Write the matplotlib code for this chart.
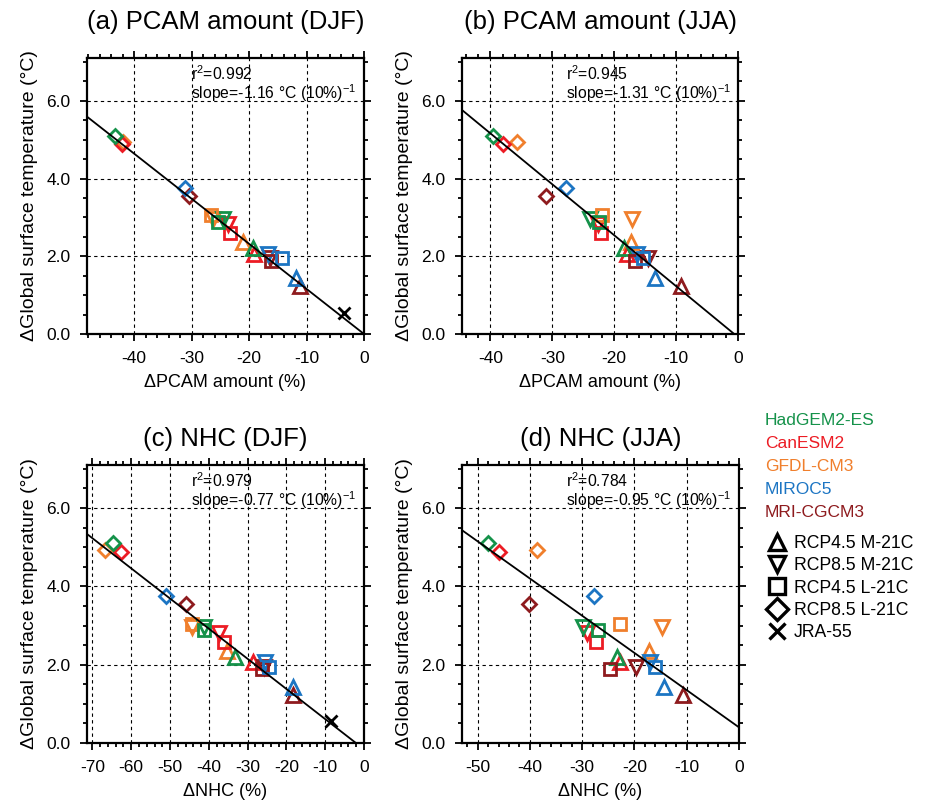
import numpy as np
import matplotlib
matplotlib.use("Agg")
import matplotlib.pyplot as plt
from matplotlib.lines import Line2D
from matplotlib.ticker import MultipleLocator, FormatStrFormatter

plt.rcParams["font.family"] = ["Liberation Sans", "DejaVu Sans"]
plt.rcParams["mathtext.fontset"] = "custom"
plt.rcParams["mathtext.rm"] = "Liberation Sans"
plt.rcParams["mathtext.it"] = "Liberation Sans:italic"

# ---------------------------------------------------------------- data
models = ["HadGEM2-ES", "CanESM2", "GFDL-CM3", "MIROC5", "MRI-CGCM3"]
model_colors = ["#15924a", "#ec1c24", "#f07f2c", "#1c75c3", "#8e1b1e"]
scenarios = ["RCP4.5 M-21C", "RCP8.5 M-21C", "RCP4.5 L-21C", "RCP8.5 L-21C"]
scenario_markers = ["^", "v", "s", "D"]

# global-mean surface temperature change (°C); rows = models, cols = scenarios
dT = np.array([
    [2.20, 2.96, 2.88, 5.10],
    [2.07, 2.82, 2.59, 4.88],
    [2.36, 2.97, 3.05, 4.94],
    [1.44, 2.06, 1.95, 3.75],
    [1.23, 1.95, 1.88, 3.54],
])

# change in PCAM amount (%), DJF
pcam_djf = np.array([
    [-19.4, -24.6, -25.4, -43.3],
    [-19.1, -23.7, -23.4, -42.1],
    [-21.1, -26.2, -26.6, -41.9],
    [-11.9, -16.7, -14.3, -31.1],
    [-11.2, -16.4, -16.2, -30.4],
])
# change in PCAM amount (%), JJA
pcam_jja = np.array([
    [-18.5, -23.9, -22.5, -39.6],
    [-18.0, -22.6, -22.1, -38.0],
    [-17.3, -17.1, -22.0, -35.7],
    [-13.4, -16.3, -15.3, -27.8],
    [-9.2, -14.5, -16.6, -31.1],
])
# change in NHC (%), DJF
nhc_djf = np.array([
    [-33.2, -41.3, -41.3, -64.6],
    [-28.5, -37.4, -36.2, -62.7],
    [-35.3, -44.3, -44.3, -66.7],
    [-18.4, -25.4, -24.6, -51.1],
    [-18.4, -25.8, -26.3, -46.0],
])
# change in NHC (%), JJA
nhc_jja = np.array([
    [-23.3, -29.8, -26.9, -48.0],
    [-22.7, -29.1, -27.3, -45.9],
    [-17.3, -14.8, -22.8, -38.7],
    [-14.4, -17.0, -16.0, -27.7],
    [-10.7, -19.7, -24.7, -40.1],
])

# JRA-55 reanalysis (DJF panels only)
jra_label = "JRA-55"
jra_pcam_djf = -3.5
jra_nhc_djf = -8.6
jra_dT = 0.55

# regression statistics per panel
r_squared = [0.992, 0.945, 0.979, 0.784]
slopes_per10 = [-1.16, -1.31, -0.77, -0.95]      # °C per 10 %
intercepts = [0.0, -0.08, -0.16, 0.40]           # °C

titles = ["(a) PCAM amount (DJF)", "(b) PCAM amount (JJA)",
          "(c) NHC (DJF)", "(d) NHC (JJA)"]
xlabels = ["\u0394PCAM amount (%)", "\u0394PCAM amount (%)",
           "\u0394NHC (%)", "\u0394NHC (%)"]
ylabel = "\u0394Global surface temperature (\u00b0C)"
xdata = [pcam_djf, pcam_jja, nhc_djf, nhc_jja]
jra_x = [jra_pcam_djf, None, jra_nhc_djf, None]
xlims = [(-48.2, 0), (-44.6, 0), (-71.4, 0), (-53.0, 0)]
ylim = (0, 7.1)

# ---------------------------------------------------------------- figure
W, H = 927, 805
fig = plt.figure(figsize=(W / 100, H / 100), dpi=100)

boxes = [  # left, top, right, bottom in pixels
    (87, 58, 364, 334),
    (462, 58, 738, 334),
    (87, 465, 364, 743),
    (462, 465, 739, 743),
]
title_pads = [21, 21, 14, 14]

marker_sizes = {"^": 9.5, "v": 9.5, "s": 8.4, "D": 7.6}
legend_marker_sizes = {"^": 12, "v": 12, "s": 11.5, "D": 11}

for k, (l, t, r, b) in enumerate(boxes):
    ax = fig.add_axes([l / W, 1 - b / H, (r - l) / W, (b - t) / H])
    ax.set_xlim(*xlims[k])
    ax.set_ylim(*ylim)

    ax.xaxis.set_major_locator(MultipleLocator(10))
    ax.xaxis.set_minor_locator(MultipleLocator(2))
    ax.yaxis.set_major_locator(MultipleLocator(2))
    ax.yaxis.set_minor_locator(MultipleLocator(0.5))
    ax.xaxis.set_major_formatter(FormatStrFormatter("%d"))
    ax.yaxis.set_major_formatter(FormatStrFormatter("%.1f"))
    ax.tick_params(which="both", direction="out", top=True, right=True,
                   width=1.3, labelsize=12.5, pad=7)
    ax.tick_params(which="major", length=5)
    ax.tick_params(which="minor", length=3)
    for sp in ax.spines.values():
        sp.set_linewidth(1.6)

    ax.grid(True, which="major", color="black", linestyle=(0, (3, 3)),
            linewidth=0.8, zorder=0)
    ax.set_axisbelow(True)

    # scatter: scenario by scenario, models in reverse order
    xs = xdata[k]
    for j, mk in enumerate(scenario_markers):
        for i in reversed(range(len(models))):
            ax.plot(xs[i, j], dT[i, j], linestyle="none", marker=mk,
                    markersize=marker_sizes[mk], markerfacecolor="none",
                    markeredgecolor=model_colors[i], markeredgewidth=2.0,
                    zorder=3)

    if jra_x[k] is not None:
        ax.plot(jra_x[k], jra_dT, linestyle="none", marker="x",
                markersize=9, markeredgewidth=2.0, color="black", zorder=4)

    # regression line
    xl = np.array(xlims[k], dtype=float)
    ax.plot(xl, slopes_per10[k] / 10.0 * xl + intercepts[k],
            color="black", linewidth=1.3, zorder=5)

    ax.text(0.375, 0.942, r"r$^{\mathregular{2}}$=%.3f" % r_squared[k],
            transform=ax.transAxes, fontsize=11.3, va="center", ha="left")
    ax.text(0.375, 0.872,
            r"slope=%.2f $\mathregular{\degree}$C (10%%)$^{\mathregular{-1}}$"
            % slopes_per10[k],
            transform=ax.transAxes, fontsize=11.3, va="center", ha="left")

    ax.set_title(titles[k], fontsize=18.5, pad=title_pads[k])
    ax.set_xlabel(xlabels[k], fontsize=13, labelpad=6)
    ax.set_ylabel(ylabel, fontsize=14, labelpad=6)

# ---------------------------------------------------------------- legends
model_handles = [Line2D([], [], linestyle="none") for _ in models]
fig.legend(model_handles, models, loc="upper left",
           bbox_to_anchor=(765 / W, 1 - 413 / H), frameon=False,
           handlelength=0, handletextpad=0, labelcolor=model_colors,
           fontsize=12.5, labelspacing=0.45, borderpad=0, borderaxespad=0)

sym_handles = [Line2D([], [], linestyle="none", marker=mk, color="black",
                      markerfacecolor="none",
                      markersize=legend_marker_sizes[mk],
                      markeredgewidth=2.4)
               for mk in scenario_markers]
sym_handles.append(Line2D([], [], linestyle="none", marker="x",
                          color="black", markersize=11, markeredgewidth=2.4))
fig.legend(sym_handles, scenarios + [jra_label], loc="upper left",
           bbox_to_anchor=(768 / W, 1 - 535 / H), frameon=False,
           handlelength=1.0, handletextpad=0.45, fontsize=12.7,
           labelspacing=0.3, borderpad=0, borderaxespad=0)

fig.savefig("out.png", dpi=100)
